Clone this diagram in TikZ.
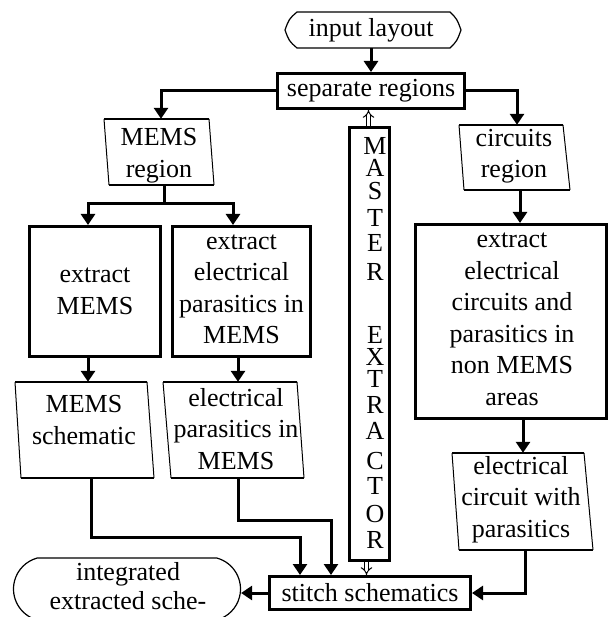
\documentclass[tikz,border=0pt]{standalone}
\usepackage{fontspec}
\setmainfont{Liberation Serif}
\usetikzlibrary{arrows.meta,shapes.misc}
\begin{document}
\begin{tikzpicture}[x=1pt,y=-1pt,
  every node/.style={font=\fontsize{26}{31.5}\selectfont, inner sep=0pt, align=center},
  box/.style={draw, line width=3pt},
  conn/.style={line width=3pt},
  arr/.style={conn, -{Triangle[width=14pt,length=11pt]}},
  sideline/.style={line width=1pt},
  edgeline/.style={line width=2.6pt},
  dbl/.style={double, double distance=3pt, line width=1pt, -{Implies}},
  letters/.style={font=\fontsize{26}{26}\selectfont},
]
\useasboundingbox (0,0) rectangle (608,617);

% input layout (hexagon with curved sides)
\node[minimum width=170, minimum height=36] (input) at (371,30) {input layout};
\draw[line width=1.2pt] (297,12) -- (450,12) .. controls (457,19) .. (461,30)
  .. controls (457,41) .. (450,48) -- (297,48) .. controls (289,41) .. (285,30)
  .. controls (289,19) .. (297,12) -- cycle;

% separate regions
\node[box, minimum width=187, minimum height=35] (sep) at (371,91) {separate regions};

% MEMS region
\node[minimum width=105, minimum height=66] (memsreg) at (159,152) {};
\node (memsregt) at (159,155.5) {MEMS\\region};
\draw[sideline] (104,119) -- (109,185) (209,119) -- (214,185);
\draw[edgeline] (104,119) -- (209,119) (109,185) -- (214,185);

% circuits region
\node[minimum width=105, minimum height=65] (circreg) at (515,157.5) {};
\node (circregt) at (514,156) {circuits\\region};
\draw[sideline] (459,125) -- (464,190) (563,125) -- (570,190);
\draw[edgeline] (459,125) -- (563,125) (464,190) -- (570,190);

% extract boxes
\node[box, minimum width=131, minimum height=130] (exmems) at (95,291.5) {extract\\MEMS};
\node[box, minimum width=138, minimum height=130] (exelec) at (241.5,291.5) {};
\node (exelect) at (241.5,289.5) {extract\\electrical\\parasitics in\\MEMS};
\node[box, minimum width=191, minimum height=194] (excirc) at (511,321.5) {};
\node (excirct) at (512,319.5) {extract\\electrical\\circuits and\\parasitics in\\non MEMS\\areas};

% MEMS schematic
\node[minimum width=133, minimum height=96] (memsch) at (84.5,430) {};
\node (memscht) at (84,420) {MEMS\\schematic};
\draw[sideline] (15,382) -- (21,478) (147,382) -- (154,478);
\draw[edgeline] (15,382) -- (147,382) (21,478) -- (154,478);

% electrical parasitics in MEMS
\node[minimum width=134, minimum height=96] (elpar) at (233.5,430) {};
\node (elpart) at (236,429) {electrical\\parasitics in\\MEMS};
\draw[sideline] (163,382) -- (171,478) (297,382) -- (304,478);
\draw[edgeline] (163,382) -- (297,382) (171,478) -- (304,478);

% electrical circuit with parasitics
\node[minimum width=133, minimum height=97] (elcirc) at (522,501.5) {};
\node (elcirct) at (521,499.5) {electrical\\circuit with\\parasitics};
\draw[sideline] (452,453) -- (459,550) (584,453) -- (593,550);
\draw[edgeline] (452,453) -- (584,453) (459,550) -- (593,550);

% stitch schematics
\node[box, minimum width=201, minimum height=33] (stitch) at (370,593) {stitch schematics};

% integrated extracted schematic
\node[draw, line width=1.2pt, rounded rectangle, rounded rectangle arc length=150,
      minimum width=227, minimum height=62] (integ) at (127,589) {};
\node (integt) at (128,586) {integrated\\[-2.5pt]extracted sche-};

% MASTER EXTRACTOR
\node[box, minimum width=40, minimum height=433] (master) at (369.5,344) {};
\node[letters, anchor=north] (mastert) at (375,137.5)
  {M\\[-4pt]A\\[-3pt]S\\[1pt]T\\[-1pt]E\\[3pt]R\\[37pt]E\\[-4pt]X\\[-4pt]T\\R\\A\\[4pt]C\\[-1pt]T\\[2pt]O\\R};

% connectors
\draw[arr] (input.south) -- (sep.north);
\draw[arr] (sep.west) -| ([xshift=2pt]memsreg.north);
\draw[arr] (sep.east) -| ([xshift=2pt]circreg.north);
\draw[conn] ([xshift=5pt]memsreg.south) -- ++(0,18) coordinate (split);
\draw[arr] (split) -| ([xshift=-7pt]exmems.north);
\draw[arr] (split) -| ([xshift=-8.5pt]exelec.north);
\draw[arr] ([xshift=5pt]circreg.south) -- ([xshift=5pt]circreg.south |- excirc.north);
\draw[arr] ([xshift=-7pt]exmems.south) -- ([xshift=-7pt]exmems.south |- memsch.north);
\draw[arr] ([xshift=-3.5pt]exelec.south) -- ([xshift=-3.5pt]exelec.south |- elpar.north);
\draw[arr] ([xshift=12pt]excirc.south) -- ([xshift=12pt]excirc.south |- elcirc.north);
\draw[arr] ([xshift=6.5pt]memsch.south) -- ++(0,59) -| ([xshift=-70pt]stitch.north);
\draw[arr] ([xshift=4.5pt]elpar.south) -- ++(0,42) -| ([xshift=-39pt]stitch.north);
\draw[arr] ([xshift=3pt]elcirc.south) |- (stitch.east);
\draw[arr] (stitch.west) -- (stitch.west -| integ.east);
\draw[dbl] ([xshift=-1pt]master.north) -- ([xshift=-1pt]master.north |- sep.south);
\draw[dbl] ([xshift=-3pt]master.south) -- ([xshift=-3pt]master.south |- stitch.north);
\end{tikzpicture}
\end{document}
